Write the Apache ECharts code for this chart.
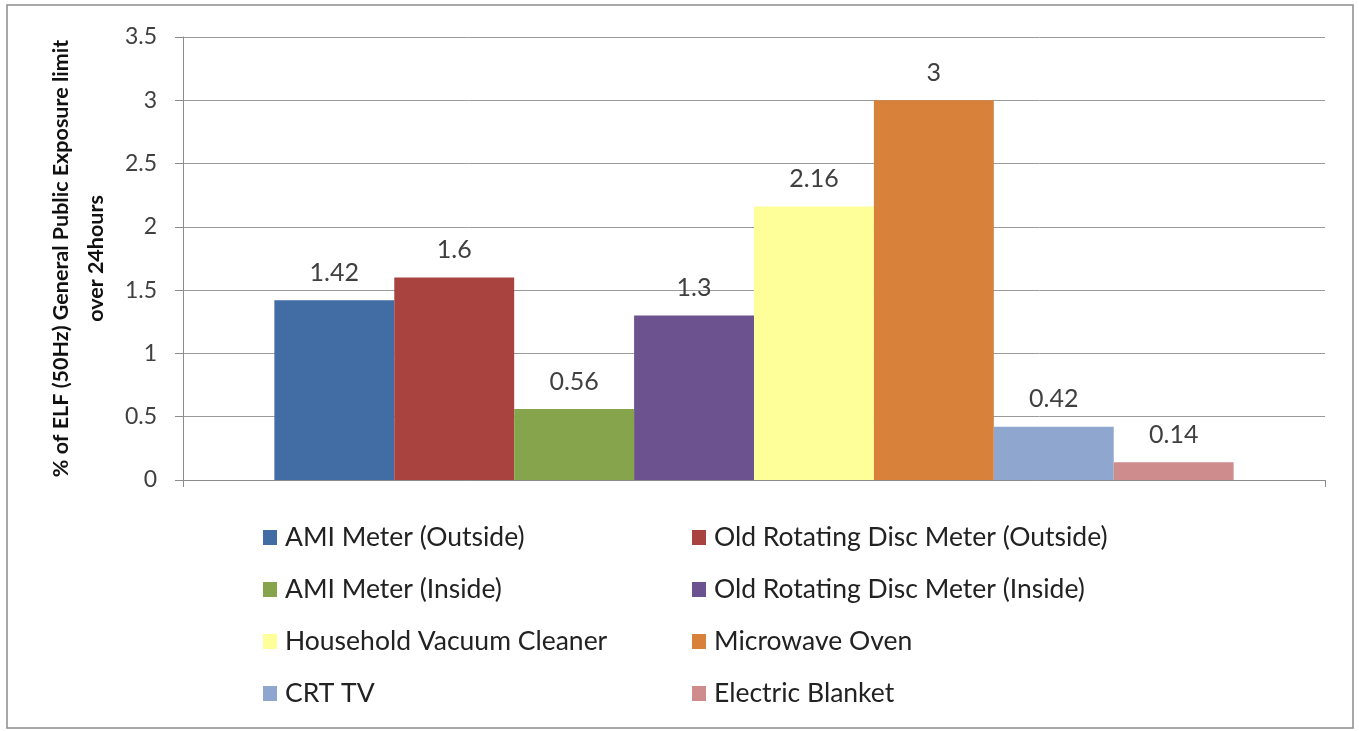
<!DOCTYPE html>
<html>
<head>
<meta charset="utf-8">
<script src="https://cdn.jsdelivr.net/npm/echarts@6/dist/echarts.min.js"></script>
<style>
  html, body { margin: 0; padding: 0; background: #fff; }
  #chart { width: 1359px; height: 731px; }
</style>
</head>
<body>
<div id="chart"></div>
<script>
// Exposure sources, their share of the ELF limit and bar colours
const sources = [
  'AMI Meter (Outside)',
  'Old Rotating Disc Meter (Outside)',
  'AMI Meter (Inside)',
  'Old Rotating Disc Meter (Inside)',
  'Household Vacuum Cleaner',
  'Microwave Oven',
  'CRT TV',
  'Electric Blanket'
];
const exposure = [1.42, 1.6, 0.56, 1.3, 2.16, 3, 0.42, 0.14];
const colors = ['#416CA4', '#A8433F', '#86A44B', '#6C5390', '#FFFF99', '#D7813B', '#8FA6CE', '#CF8C8C'];
const yTicks = { min: 0, max: 3.5, interval: 0.5 };
const yTitle = '% of ELF (50Hz) General Public Exposure limit\nover 24hours';

const FONT = 'Lato, "Open Sans", sans-serif';
const TEXT = '#404040';

const series = sources.map((name, i) => ({
  name: name,
  type: 'bar',
  data: [exposure[i]],
  barGap: '0%',
  barCategoryGap: '16%',
  itemStyle: { color: colors[i] },
  label: {
    show: true,
    position: 'top',
    distance: 15,
    color: TEXT,
    fontFamily: FONT,
    fontSize: 25,
    formatter: p => String(p.value)
  }
}));

const legendText = { color: '#222', fontFamily: FONT, fontSize: 26.5, lineHeight: 26, padding: [0, 0, 0, 3] };
const legendBase = {
  orient: 'vertical', top: 524, padding: 0,
  itemWidth: 14, itemHeight: 15, itemGap: 25,
  icon: 'rect', textStyle: legendText
};
const chart = echarts.init(document.getElementById('chart'));
chart.setOption({
  animation: false,
  backgroundColor: '#fff',
  color: colors,
  graphic: [{
    type: 'rect',
    shape: { x: 7, y: 5, width: 1346, height: 723 },
    style: { fill: 'none', stroke: '#8c8c8c', lineWidth: 1.5 },
    silent: true,
    z: -1
  }],
  grid: { left: 183, right: 34, top: 37, bottom: 251, containLabel: false },
  legend: [
    Object.assign({}, legendBase, {
      data: [sources[0], sources[2], sources[4], sources[6]],
      left: 263
    }),
    Object.assign({}, legendBase, {
      data: [sources[1], sources[3], sources[5], sources[7]],
      left: 692
    })
  ],
  xAxis: {
    type: 'category',
    data: [''],
    axisLine: { lineStyle: { color: '#8c8c8c', width: 1 } },
    axisTick: { show: true, length: 7, lineStyle: { color: '#8c8c8c' } },
    axisLabel: { show: false }
  },
  yAxis: {
    type: 'value',
    min: yTicks.min,
    max: yTicks.max,
    interval: yTicks.interval,
    name: yTitle,
    nameLocation: 'middle',
    nameRotate: 90,
    nameGap: 69,
    nameTextStyle: {
      color: '#111', fontFamily: FONT, fontSize: 21.5, fontWeight: 'bold',
      lineHeight: 35, align: 'center'
    },
    axisLine: { show: true, lineStyle: { color: '#8c8c8c', width: 1 } },
    axisTick: { show: true, length: 8, lineStyle: { color: '#8c8c8c' } },
    axisLabel: {
      color: TEXT, fontFamily: FONT, fontSize: 23, margin: 26,
      formatter: v => String(v)
    },
    splitLine: { lineStyle: { color: '#9a9a9a', width: 1 } }
  },
  series: series
});
</script>
</body>
</html>
